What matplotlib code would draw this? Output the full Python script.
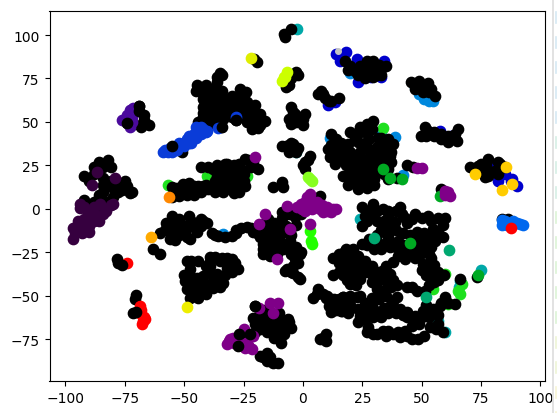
import numpy as np
import matplotlib
matplotlib.use("Agg")
import matplotlib.pyplot as plt
from matplotlib.lines import Line2D

# points, one list per colour
black = [
    # far left
    (-86,27),(-82,28),(-81,24),(-92,19),(-90,16),(-75,16),(-72,10),(-73,9),(-84,10),(-81,16),
    (-76,11),(-78,10),(-88,4),(-83,4),(-90,2),(-85,1),(-87,-1),(-84,18),(-77,14),
    (-88,24),(-84,24),(-88,20),(-84,14),(-80,12),(-74,13),(-86,8),(-80,7),(-92,5),
    (-69,59),(-67,54),(-65,48),(-68,47),(-74,49.5),(-69,56.5),(-67,51),(-71,49),
    # top middle
    (-35,78),(-36,76),(-34,77),(-26.5,69),(-24,67),(-44.6,71),(-41,71),(-40,67),(-38,69),(-34,68),
    (-42,63),(-38,63),(-34,65),(-31,62),(-42,58.6),(-38,57.5),(-33.6,58.6),(-27,61.5),(-23.6,61.5),
    (-20,60),(-24.4,56),(-21.5,53.5),(-18,54.6),(-16,50.6),(-18,48),(-21.5,46),(-23.6,50),(-25,53.5),
    (-33.6,52),(-37,49),(-34.5,47),(-44,50),(-40,50),(-36,53.5),(-39,54.6),(-31,57.5),
    (-42,66),(-42,55),(-40,60),(-40,64),(-36,60),(-36,64),(-36,57),(-36,50),(-32,55),(-32,60),(-30,65),
    (-34,55),(-28,58),(-28,64),(-26,56),(-26,60),(-24,58),(-22,50),(-22,57),(-20,50),(-20,56),(-19,46.5),
    (-30,53),(-42,53),(-45,68),(-25,63),(-36,73),
    (-51,33),(-28,51),(-19.5,84.5),(-20.5,86),
    (-5,75),(-3,79),(-7,70),(-5,103.5),(-7.6,99),(-8,100.6),(-7,72),(-6,71),(-4,77),(-2,77),
    # top right
    (17.7,85),(22,79.5),(29.5,85),(26.5,82),(30,79.5),(35,82),(33,80.5),(29.5,76),(24.6,79),(27.4,77.6),
    (20,82),(24,82),(27,85),(32,83),(31,77),(26,75),(23,77),(19,80),(33,77),
    (7.6,68),(9.3,64),(15,64),(6.5,66),(8.5,66),(11,62),(12,62),
    (-5,58.6),(-3.4,54.6),(1,54.6),(-1,50.6),(-5,49),(0,48.3),(-4,56),(-2,53),(0,52),(-3,50),(-6,52),
    (-7,36),(-4,37.4),(-3,33),(-6,33),(3,30.5),(1,27),(1,23),(-9,15.5),(-8.4,12.6),(-12.6,12.6),(-9,36),
    (-6,37),(-5,35),(-5,38),(-2,35),(0,25),(2,28),
    # band at y 10-25
    (-43,24),(-55,12.6),(-50.5,14.4),(-52,7.5),(-46,13),(-43,10),(-40,11.5),(-38,23),(-36,19),(-33,26),
    (-34,21),(-35,14.4),(-33.6,10),(-28.6,13),(-27,10),(-25,16),(-29.5,19),(-31,23),(-24.4,29),(-21,27),(-19,23),
    (-48,11),(-50,10),(-47,9),(-44,13),(-41,14),(-38,13),(-37,10),(-36,22),(-34,17),(-31,14),(-30,11),(-31,18),
    (-27,14),(-27,19),(-28,21),(-25,20),(-32,26),(-29,25),(-27,26),(-26,23),(-22,24),(-23,28),(-54,10),(-55,7),
    (-49,8),(-36,25),(-34,11),(-29,9),(-24.5,13),(-40,24),(-37,16),(-53,12),(-48,15),(-45,10),(-42,13),(-46,8),
    # below band
    (-55,-4),(-57.5,-8),(-53,-10),(-60,-14),(-56,-17),(-50.5,-14),(-47,-7),(-43,-6),(-40.5,-8),(-47.6,-17),
    (-44.6,-13),(-52,-6),(-38.4,-14),(-35.8,-15.5),(-30,-15.5),(-28,-12),(-23.6,-10.4),(-19.4,-14),
    (-54,-7),(-51,-9),(-49,-11),(-47,-10),(-55,-12),(-52,-15),(-58,-12),(-54,-18),(-49,-16),(-45,-9),(-43,-10),
    (-42,-7),(-48,-4),(-37,-15),(-33,-16),(-28,-14),(-26,-11),(-22,-11),(-21,-13),
    (-63,-23),(-60,-26),(-78.4,-29),(-70.7,-51.8),
    (-49,-30),(-44,-30),(-47.6,-34.5),(-39,-27.6),(-39,-32.8),(-32,-28),(-28.6,-31),(-27.4,-34.5),(-35,-30),
    (-36,-37.4),(-33.7,-42.5),(-37.9,-45.4),(-42,-38.5),(-49.7,-41.4),(-46.3,-44),(-43.4,-48),(-47.6,-51),
    (-49,-46),(-40.4,-46),(-44.6,-39.6),
    (-47,-30),(-48,-37),(-46,-40),(-50,-38),(-47,-47),(-44,-44),(-44,-51),(-41,-49),(-41,-43),(-38,-42),(-36,-41),
    (-39,-37),(-39,-30),(-37,-27.5),(-41,-33),(-32,-34),(-30,-33),(-33,-38),(-30,-36),(-35,-45),(-34,-28),(-30,-29),
    # centre
    (-14.7,-5.7),(-9,-1.7),(-3.4,-4.6),(-14,-11.5),(-10.5,-9.8),(-16.8,-14),(-16.8,-20),(-16.8,-26),(-14,-20),
    (-9.7,-18.4),(-5.5,-18.4),(-11,-26),(-14,-27),(-1.3,-26),(-3.4,-28.7),(-6.7,-34.5),(-2,-39),(-4.2,-33),
    (-8.4,-23),(-5.5,-12.6),(-12,-15),(-8,-13),(7,7.5),
    (-12,-8),(-16,-8),(-12,-12),(-15,-16),(-12,-20),(-10,-22),(-6,-22),(-5,-15),(-9,-5),(-6,-3),(-13,-23),(-5,-26),
    (-3,-22),(-17,-23),(-2,-31),(-5,-36),(-4,-37),(-10,-15),(-7,-10),(-1,-3),(-3,-9),(-18,-16),(-14,-24),
    # bottom middle
    (-20,-56),(-21,-62.6),(-17.3,-65.5),(-18,-69),(-15,-61.5),(-15,-71),
    (-11,-65.5),(-18,-84.5),(-15,-83),(-12.6,-88.5),(-15,-87.4),(-9.7,-63),(-6.3,-63),(-5,-68.4),(-9.3,-71),
    (-9.3,-77),(-10.5,-88.5),(-9.7,-74.7),(-10.5,-70),(-13,-66),
    (-25,-73),(-20,-66),(-18,-60),(-16,-58),(-15,-66),(-12,-62),(-13,-70),(-12,-74),(-9,-67),(-7,-66),(-10,-60),
    (-8,-72),(-17,-85),(-14,-85),(-20,-71),(-24,-75),(-6,-65),
    (6.3,-46),(4.2,-51),(8.4,-49),(11.8,-51.7),(16.8,-50.6),(16,-58.6),(11.8,-59),(13.9,-54.6),
    (6,-49),(10,-50),(13,-52),(15,-52),(14,-58),(13,-56),(9.5,-51),(17,-56),(11,-56),
    (9.7,-72),(7,-74.7),(9.7,-76),(8.5,-74),
    (12.6,-28),(18,-23),(16.8,-30),(17.7,-35.6),(12.6,-38),(19.8,-43),(22.3,-44),
    (15,-26),(15,-31),(17,-33),(15,-36),(17,-38),(20,-38),(22,-38),(22,-42),(19,-27),(21,-30),(21,-25),(22,-31),
    (-7.6,-35.6),(-1.3,-40),(-0.8,-25),
    # lower right
    (25,1),(29.5,3),(33.7,0),(41,1),(26,-4),(29.5,-4.6),(36,-4.6),(41.7,-2.9),(47,-2.9),(52.6,-4),(59.8,-5),
    (24.8,-9.8),(38.7,-7.5),(48,-13),(54.7,-11.5),(59,-16),(55.6,-18.4),(50.5,-19),(48,-23),(36,-15.5),
    (40,-18.4),(27,-21),(32.4,-20),(36.6,-22),(41.7,-25),(38,-30.5),(49,-27),(54,-28),(54,-34.5),(50.5,-31.6),
    (17.7,-24),(23,-27),(16.8,-30.5),(19.8,-33.4),(24,-34.5),(29,-32.8),(18.5,-41),(24,-40),(29.5,-38.5),
    (33.3,-35.6),(36.6,-37.4),(31,-42),(36,-42),(39.6,-44),(33.7,-47),(39.6,-50.6),(22.7,-50.6),(16.8,-50.6),
    (16.4,-58.6),(23,-57.5),(29,-55.8),(32.4,-59),(36.6,-55.8),(24,-61.5),(29.5,-62),(27.4,-68),(29.5,-72),
    (33.7,-70),(38,-72),(41,-73.6),(43,-70),(48.4,-74.7),(49,-66),(47,-61.5),(43.8,-59),(41,-57.5),(50.5,-58.6),
    (54.7,-57.5),(53.5,-68),(56.8,-66),(59,-70.7),(46,-45),(43.8,-45),(51.4,-47),(59.5,-38),(57.7,-55.8),
    (61,-53.8),(64,-54.6),(59.8,-50.6),(66,-40),(73.2,-39),
    (27,-1),(31,-1),(36,-1),(39,-1),(43,-5),(27,-7),(31,-7),(34,-7),(44,-8),(33,-12),(36,-10),(39,-12),(42,-14),
    (45,-15),(48,-18),(51,-14),(53,-16),(57,-13),(59,-9),(57,-5),(54,-7),(50,-5),(46,-6),(31,-15),(28,-17),(25,-20),
    (30,-23),(33,-23),(36,-18),(39,-22),(43,-21),(45,-24),(47,-19),(52,-23),(54,-22),(53,-26),(47,-28),(43,-29),
    (40,-27),(50,-35),(52,-38),(55,-36),(21,-23),(20,-28),(26,-30),(27,-36),(23,-37),(21,-37),(31,-36),(35,-33),
    (34,-40),(31,-39),(38,-41),(37,-45),(35,-46),(31,-46),(29,-42),(35,-50),(32,-52),(29,-51),(26,-54),(24,-50),
    (20,-50),(20,-55),(19,-60),(26,-59),(30,-58),(34,-57),(38,-53),(26,-63),(23,-65),(27,-71),(31,-72),(35,-73),
    (36,-70),(40,-71),(44,-73),(46,-75),(51,-73),(46,-67),(47,-65),(50,-62),(53,-62),(55,-60),(57,-61),(58,-54),
    (52,-55),(44,-62),(42,-61),(39,-60),(36,-60),(33,-62),(56,-69),(48,-47),(53,-44),(55,-42),(57,-41),(56,-39),
    (57,-36),(55,-32),
    # right side
    (86.3,-5.7),(85,-7.5),(84,-6),(86,-8),(70.3,24),(73.7,24.7),(78,28.7),(75,26),(80.8,22),(76.6,18.4),(85,24),(79,21),
    (77,24),(74,22),(78,19),(77,26),(82,20),(83,26),(82,27),
    (45.5,73),(49,73.6),(52.6,72.4),(50.5,67),(55.6,65),(48,71),(47,69),(51,70),(53,67),(54,69),
    (51.4,47),(49.7,42),(52.6,45),(58,40),(61,38.5),(65.3,46),(65,39),(55,42),
    (55,44),(58,43),(61,42),(63,42),(64,43),(60,40),(52,42),
    # middle right
    (12,43),(10.5,34.5),(19.8,44),(24,44),(27,49),(29.5,50.6),(23,38.5),(19,37.4),(14.7,36),(12,30.5),(15.6,30),
    (20,33),(24,33),(28,34.5),(31,35.6),(31.6,41),(28,40),(36.6,30.5),(36.6,36),(36,40),(38,37.4),(33.7,27),
    (36,23),(31,29),(27,29),(20,27),(23,27),(25,23),(29,23),(17,19),(21,15.5),(23,11.5),(27,15.5),(30,17),
    (31.6,21),(20,22),(36,17),(39.6,18),(11.4,30),(13.5,26),(44,25.3),(46.3,24),(58,11.5),
    (14,40),(16,34),(16,38),(22,41),(26,44),(29,46),(24,47),(26,38),(33,32),(33,37),(33,41),(30,31),(22,30),(18,30),
    (18,25),(22,24),(26,26),(26,20),(23,19),(20,18),(25,15),(28,19),(32,25),(29,27),(34,32),(19,14),(24,14),(21,19),
    (34,20),(12,37),(14,32),(18,34),(17,28),(27,12),(30,14),(36,27),(37,33),(37,27),
]

# black points that lie over a coloured one
black_over = [
    (-55,36),(-34,47),(-28,51),(-70.3,-49.5),(-70.3,-59),(-71.6,-60),(-78,-31),(-76,-32),
    (-27,-72),(-27.4,-78.7),(-22.3,-72),(-69,56.5),(-74,49.5),(-69,59),(-20,-56),
]

dark_purple = [
    (-86.7,21),(-88.8,14),(-79,18),(-94,3),(-85.5,3),(-80,3),(-94.7,-7),(-97,-11),(-97,-17),(-93,-14),(-90,-10),
    (-86,-7),(-90,-5),(-94,0.5),(-83,-1),(-92,-10),(-95,-13),(-87.5,-3),(-90.5,-2),(-81,2),
    (-92,-6),(-88,-7),(-94,-10),(-90,-13),(-96,-14),(-84,-3),(-88,1),(-92,1),
]
indigo = [(-73,57),(-76,51),(-72,50),(-73,47),(-71.5,58),(-74,54),(-72,53),(-74,50)]
royal_blue = [
    (-59,33),(-57,33),(-55,33),(-54,35),(-52,36),(-50,36),(-50,38),(-48,38),(-52,38),(-47,41),(-46,43),
    (-48,42),(-44,43),(-43,47),(-45,47),(-41,44),(-40.5,45),(-35.8,46.5),(-28,53),
    (-58,34),(-56,35),(-53,34),(-51,37),(-49,40),(-47,38),(-45,41),(-43,43),(-42,46),
]
navy_blue = [
    (14,89),(18,90),(15.6,85),(22.7,86),(23,73),(33,76),(28.6,76),(34,85),(13.5,61.5),(10.5,60),(16,88),(25,75),
    (79,24),(83,23),(82,16),(87.6,16),(90,13),(57.7,45),(62.3,42),(81,25),(85,20),(88,17),
]
sky_blue = [
    (20,78),(49.7,68),(54.7,62),(52.6,64),(49,66),(51,63),(51,65),(53,62),(47,70),
    (-33.8,-14.5),(11.4,41),(38.7,41.4),(42,19.5),(33,45),
]
azure = [(85,-7),(88.4,-7),(91.4,-8.6),(92.6,-9),(83.8,-6.3),(86,-9),(90,-8),(87,-8),(84,-9)]
teal = [(-2.5,103.5),(-3,33),(66,-41.4),(65.7,-45),(75,-35),(57,-64.5),(60,-70.7),(24,-5.7)]
sea_green = [(30,-16.7),(61.5,-23.6),(52,-50.6)]
green = [(45,-19.8),(41.7,17),(57.7,7.5),(36.6,18),(33.7,23),(73.7,-38)]
bright_green = [
    (-57,14),(-40.5,19),(-28.6,23),(-23.6,19),(13.5,40),(33.7,46.5),(34.5,37.4),(54.7,-46),(59.8,-37.4),(61,-54.6),
    (66,-49),(67,-43),(65.3,-47),
]
neon_green = [(3,-12.6),(3.4,-18.4),(4,-20)]
lime = [(2,18.4),(4,16),(3,17)]
yellow_green = [(-6.7,79),(-8.8,73.6),(-8,76),(-7.7,76)]
chartreuse = [(-22,87)]
yellow = [(-49,-56.4)]
gold = [(88,14.4),(84,11),(85.5,24),(72.4,20)]
orange = [(-56.5,7)]
amber = [(-64,-16)]
red = [(-74,-31),(-67.5,-64.4),(-66.6,-63),(-68,-60.4),(-68.6,-55.8),(-67,-62),(-68,-58),(-67.7,-66),(87.6,-11)]
purple = [
    (-20,30),(-16,-3),(-18.5,-8.6),(-6.7,1.7),(-5.5,-11.5),(-11,-28.7),(3,-8.6),
    (1.7,7),(3.8,2.9),(-0.4,0),(6,4),(0.8,4),(-2.5,1),(3,8.6),(3.8,4.6),(12.6,0),(10,1),(7,0),(1,-1),(8.4,-1.7),(14,0),
    (4,0),(6,1),(8,2),(10,-1),(2,2),(3,6),(5,3),(12,-2),(-1,3),
    (-32,-77.6),(-30.7,-74.7),(-27.8,-77.6),(-24.4,-80),(-21.5,-80.5),(-24.8,-69),(-29.5,-74),(-21,-73),
    (-28,-75),(-26,-78),(-24,-77),(-31,-76),(-23,-78),(-29,-77),
    (-18.5,-57),(-14,-54),(-12.6,-60),(-10.5,-54),(59.8,10.4),(62,7.5),(60,8),(61,10),(50,23.6),(48,23.6),
]
silver = [(14.7,91)]

under = [(navy_blue,"#0000cc"),(sky_blue,"#0088dd"),(teal,"#00a8a8"),(bright_green,"#1ee01e")]
top = [
    (dark_purple,"#36003f"),(indigo,"#4a0a9c"),(royal_blue,"#0a3cd8"),(azure,"#0068ee"),(sea_green,"#00a870"),
    (green,"#00aa22"),(neon_green,"#22ff00"),(lime,"#88ff22"),(yellow_green,"#ccff00"),(chartreuse,"#dfee00"),
    (yellow,"#eeee00"),(gold,"#ffcc00"),(orange,"#ff8800"),(amber,"#ffaa00"),(red,"#ff0000"),(purple,"#7f0088"),
]
size = 55

fig = plt.figure(figsize=(5.57, 4.14), dpi=100)
ax = fig.add_axes([49.5/557, 32/414, 495.5/557, 370/414])

for pts, col in under:
    p = np.array(pts)
    ax.scatter(p[:, 0], p[:, 1], c=col, s=size)
p = np.array(black)
ax.scatter(p[:, 0], p[:, 1], c="black", s=size)
for pts, col in top:
    p = np.array(pts)
    ax.scatter(p[:, 0], p[:, 1], c=col, s=size)
p = np.array(black_over)
ax.scatter(p[:, 0], p[:, 1], c="black", s=size)
p = np.array(silver)
ax.scatter(p[:, 0], p[:, 1], c="#c4c4c4", s=16)

ax.set_xlim(-106.7, 101.9)
ax.set_ylim(-98.9, 113.8)
ax.set_xticks(np.arange(-100, 101, 25))
ax.set_yticks(np.arange(-75, 101, 25))

# bits of the page next to the plot
fig.add_artist(Line2D([552.5/557]*2, [0, 1], color="#dddddd", lw=1.2))
strip = ["#d5e9f3"]*5 + ["#d5efe5"]*3 + ["#dcf3d5"]*5 + ["#eef5d5"]*2 + ["#f7f5d5"]*2
for i, col in enumerate(strip):
    y0 = 1 - (13 + 25*i)/414
    fig.add_artist(Line2D([556/557]*2, [y0, y0 - 11/414], color=col, lw=1.2))

fig.savefig("out.png", dpi=100)
